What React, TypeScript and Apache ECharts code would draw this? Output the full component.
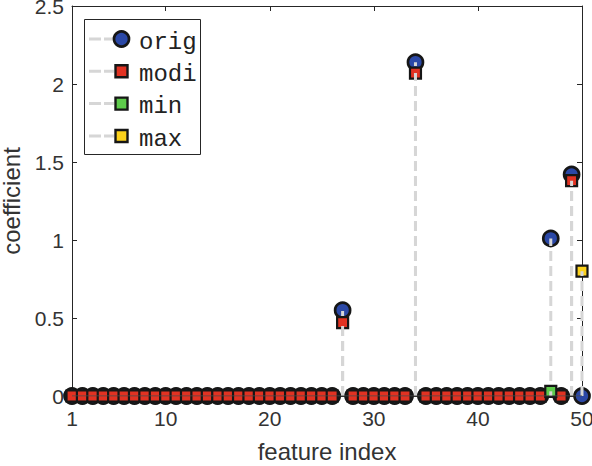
import React, { useEffect, useRef } from "react";
import * as echarts from "echarts";

// ---------- data ----------
const featureIndex = [
  1, 2, 3, 4, 5, 6, 7, 8, 9, 10,
  11, 12, 13, 14, 15, 16, 17, 18, 19, 20,
  21, 22, 23, 24, 25, 26, 27, 28, 29, 30,
  31, 32, 33, 34, 35, 36, 37, 38, 39, 40,
  41, 42, 43, 44, 45, 46, 47, 48, 49, 50,
];
const origValues = [
  0, 0, 0, 0, 0, 0, 0, 0, 0, 0,
  0, 0, 0, 0, 0, 0, 0, 0, 0, 0,
  0, 0, 0, 0, 0, 0, 0.55, 0, 0, 0,
  0, 0, 0, 2.14, 0, 0, 0, 0, 0, 0,
  0, 0, 0, 0, 0, 0, 1.01, 0, 1.42, 0,
];
const modiValues: (number | null)[] = [
  0, 0, 0, 0, 0, 0, 0, 0, 0, 0,
  0, 0, 0, 0, 0, 0, 0, 0, 0, 0,
  0, 0, 0, 0, 0, 0, 0.47, 0, 0, 0,
  0, 0, 0, 2.07, 0, 0, 0, 0, 0, 0,
  0, 0, 0, 0, 0, 0, null, 0, 1.38, null,
];
const minIndex = [47];
const minValues = [0.03];
const maxIndex = [50];
const maxValues = [0.8];

const xTickValues = [1, 10, 20, 30, 40, 50];
const yMin = 0;
const yMax = 2.5;
const yInterval = 0.5;
const legendNames = ["orig", "modi", "min", "max"];

// ---------- styles ----------
const BLUE = "#2b48a6";
const RED = "#e13222";
const GREEN = "#5ecb4b";
const YELLOW = "#fcd21c";
const EDGE = "#161616";
const STEM = "#d6d6d6";
const AXIS = "#262626";
const TEXT = "#333333";
const SANS = 'Helvetica, Arial, "Liberation Sans", sans-serif';
const MONO = '"Liberation Mono", "Courier New", monospace';

const pairs = (xs: number[], ys: (number | null)[]) =>
  xs.map((x, i) => [x, ys[i]]).filter((p) => p[1] !== null && p[1] !== undefined);

const stemSeries = (name: string, data: any[], z: number) => ({
  type: "custom",
  name: name + "-stem",
  silent: true,
  z,
  data,
  encode: { x: 0, y: 1 },
  renderItem: (params: any, api: any) => {
    const x = api.value(0);
    const y = api.value(1);
    if (!y) return null;
    const p0 = api.coord([x, 0]);
    const p1 = api.coord([x, y]);
    return {
      type: "line",
      shape: { x1: p0[0], y1: p0[1], x2: p1[0], y2: p1[1] },
      style: { stroke: STEM, lineWidth: 3, lineDash: [10, 5], fill: null },
    };
  },
});

const markerSeries = (
  name: string,
  data: any[],
  symbol: string,
  size: number,
  color: string,
  bw: number,
  z: number
) => ({
  type: "scatter",
  name,
  silent: true,
  z,
  data,
  symbol,
  symbolSize: size,
  itemStyle: { color, borderColor: EDGE, borderWidth: bw, opacity: 1 },
});

export default function App() {
  const ref = useRef<HTMLDivElement>(null);

  useEffect(() => {
    if (!ref.current) return;
    const chart = echarts.init(ref.current, undefined, { renderer: "svg" });

    const origData = pairs(featureIndex, origValues);
    const modiData = pairs(featureIndex, modiValues);
    const minData = pairs(minIndex, minValues);
    const maxData = pairs(maxIndex, maxValues);

    const legendColors = [BLUE, RED, GREEN, YELLOW];
    const rowY = [39, 71.3, 103.6, 136];
    const legendGraphics: any[] = [
      {
        type: "rect",
        z: 100,
        shape: { x: 84.5, y: 19.5, width: 116, height: 135 },
        style: { fill: "#ffffff", stroke: AXIS, lineWidth: 1 },
      },
    ];
    legendNames.forEach((nm, i) => {
      const y = rowY[i];
      legendGraphics.push({
        type: "line",
        z: 101,
        shape: { x1: 89, y1: y, x2: 114, y2: y },
        style: { stroke: STEM, lineWidth: 3, lineDash: [12, 3] },
      });
      if (i === 0) {
        legendGraphics.push({
          type: "circle",
          z: 102,
          shape: { cx: 121.5, cy: y, r: 7.5 },
          style: { fill: legendColors[i], stroke: EDGE, lineWidth: 2.7 },
        });
      } else {
        legendGraphics.push({
          type: "rect",
          z: 102,
          shape: { x: 115.5, y: y - 6, width: 12, height: 12 },
          style: { fill: legendColors[i], stroke: EDGE, lineWidth: 2.4 },
        });
      }
      legendGraphics.push({
        type: "text",
        z: 102,
        x: 139,
        y: y + 3,
        style: {
          text: nm,
          fill: "#222222",
          font: `24px ${MONO}`,
          textAlign: "left",
          textVerticalAlign: "middle",
        },
      });
    });

    const xBase = {
      type: "value",
      min: featureIndex[0],
      max: featureIndex[featureIndex.length - 1],
      splitLine: { show: false },
      axisLine: { show: true, onZero: false, lineStyle: { color: AXIS, width: 1 } },
      axisTick: {
        show: true,
        inside: true,
        length: 5,
        customValues: xTickValues,
        lineStyle: { color: AXIS, width: 1 },
      },
    };
    const yBase = {
      type: "value",
      min: yMin,
      max: yMax,
      interval: yInterval,
      splitLine: { show: false },
      axisLine: { show: true, onZero: false, lineStyle: { color: AXIS, width: 1 } },
      axisTick: { show: true, inside: true, length: 5, lineStyle: { color: AXIS, width: 1 } },
    };

    chart.setOption({
      animation: false,
      backgroundColor: "#ffffff",
      grid: {
        left: 72,
        right: 10,
        top: 6,
        bottom: 70,
        containLabel: false,
        outerBoundsMode: "none",
      },
      xAxis: [
        {
          ...xBase,
          position: "bottom",
          name: "feature index",
          nameLocation: "middle",
          nameGap: 43,
          nameTextStyle: { fontSize: 24, color: TEXT, fontFamily: SANS },
          axisLabel: {
            show: true,
            customValues: xTickValues,
            fontSize: 21,
            color: TEXT,
            fontFamily: SANS,
            margin: 12,
          },
        },
        { ...xBase, position: "top", axisLabel: { show: false } },
      ],
      yAxis: [
        {
          ...yBase,
          position: "left",
          name: "coefficient",
          nameLocation: "middle",
          nameGap: 42,
          nameTextStyle: { fontSize: 24, color: TEXT, fontFamily: SANS },
          axisLabel: { show: true, fontSize: 21, color: TEXT, fontFamily: SANS, margin: 8 },
        },
        { ...yBase, position: "right", axisLabel: { show: false } },
      ],
      series: [
        markerSeries("orig", origData, "circle", 15, BLUE, 2.7, 2),
        stemSeries("orig", origData, 3),
        markerSeries("modi", modiData, "rect", 11, RED, 2.2, 4),
        stemSeries("modi", modiData, 5),
        markerSeries("min", minData, "rect", 11, GREEN, 2.2, 6),
        stemSeries("min", minData, 7),
        markerSeries("max", maxData, "rect", 11, YELLOW, 2.2, 8),
        stemSeries("max", maxData, 9),
        {
          type: "line",
          name: "baseline",
          silent: true,
          z: 10,
          symbol: "none",
          data: [
            [featureIndex[0], 0],
            [featureIndex[featureIndex.length - 1], 0],
          ],
          lineStyle: { color: "#4a4a4a", width: 1 },
        },
      ],
      graphic: legendGraphics,
    });

    return () => chart.dispose();
  }, []);

  return (
    <div
      ref={ref}
      style={{ position: "absolute", left: 0, top: 0, width: 592, height: 466 }}
    />
  );
}
